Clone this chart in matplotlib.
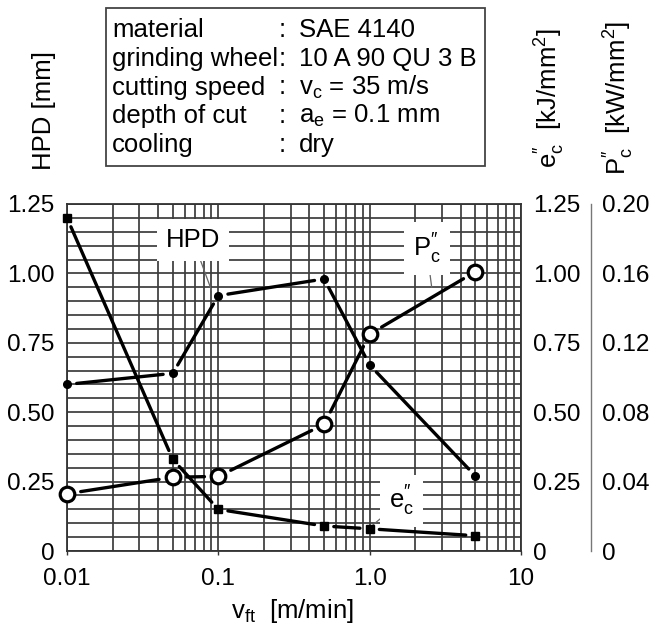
import numpy as np
import matplotlib
matplotlib.use('Agg')
import matplotlib.pyplot as plt
from matplotlib.patches import Rectangle
from matplotlib.ticker import FixedLocator, LogLocator, NullFormatter

plt.rcParams['font.family'] = ['Liberation Sans', 'DejaVu Sans']
plt.rcParams['mathtext.fontset'] = 'custom'
plt.rcParams['mathtext.rm'] = 'Liberation Sans'
plt.rcParams['mathtext.it'] = 'Liberation Sans'
plt.rcParams['mathtext.bf'] = 'Liberation Sans:bold'

# ── data ──────────────────────────────────────────────────────────────────────
v_ft = [0.01, 0.05, 0.1, 0.5, 1.0, 5.0]            # feed speed [m/min]
hpd = [0.60, 0.64, 0.92, 0.98, 0.67, 0.27]         # HPD [mm]
e_c = [1.20, 0.33, 0.15, 0.09, 0.08, 0.055]        # e_c'' [kJ/mm^2]
p_c = [0.033, 0.0425, 0.043, 0.073, 0.125, 0.161]  # P_c'' [kW/mm^2]

left_ticks = [0, 0.25, 0.50, 0.75, 1.00, 1.25]
left_labels = ['0', '0.25', '0.50', '0.75', '1.00', '1.25']
p_ticks = [0, 0.04, 0.08, 0.12, 0.16, 0.20]
p_labels = ['0', '0.04', '0.08', '0.12', '0.16', '0.20']
x_ticks = [0.01, 0.1, 1.0, 10]
x_labels = ['0.01', '0.1', '1.0', '10']

info_keys = ['material', 'grinding wheel', 'cutting speed', 'depth of cut', 'cooling']
info_vals = ['SAE 4140', '10 A 90 QU 3 B', r'$\mathregular{v_c}$ = 35 m/s',
             r'$\mathregular{a_e}$ = 0.1 mm', 'dry']

FS = 17.5      # tick labels
FS_TXT = 18.5  # box and axis titles
W, H = 655, 630

def fx(px):
    return px / W

def fy(py):
    return 1 - py / H

fig = plt.figure(figsize=(6.55, 6.3), dpi=100)
ax = fig.add_axes([fx(67), fy(551), fx(521) - fx(67), fy(204) - fy(551)])

# ── grid: log in x, 0.05 steps in y ──────────────────────────────────────────
ax.set_xscale('log')
ax.set_xlim(0.01, 10)
ax.set_ylim(0, 1.25)
ax.xaxis.set_major_locator(FixedLocator(x_ticks))
ax.set_xticklabels(x_labels)
ax.xaxis.set_minor_locator(LogLocator(base=10, subs=np.arange(2, 10)))
ax.xaxis.set_minor_formatter(NullFormatter())
ax.set_yticks(left_ticks)
ax.set_yticklabels(left_labels)
ax.yaxis.set_minor_locator(FixedLocator(np.arange(0, 1.2501, 0.05)))
ax.grid(which='both', color='#3c3c3c', lw=1.25)
ax.set_axisbelow(True)
ax.tick_params(axis='x', which='major', length=3, width=1, pad=9,
               labelsize=FS, direction='out', color='#333333')
ax.tick_params(axis='x', which='minor', length=0)
ax.tick_params(axis='y', which='both', length=0, pad=9, labelsize=FS)
for s in ax.spines.values():
    s.set_color('#333333')
    s.set_linewidth(1.3)

# right axis for e_c''
ax_e = ax.twinx()
ax_e.set_ylim(0, 1.25)
ax_e.set_yticks(left_ticks)
ax_e.set_yticklabels(left_labels)
ax_e.tick_params(axis='y', length=0, pad=9, labelsize=FS)
for s in ax_e.spines.values():
    s.set_visible(False)

# outer axis for P_c''
ax_p = ax.twinx()
ax_p.set_ylim(0, 0.20)
ax_p.set_yticks(p_ticks)
ax_p.set_yticklabels(p_labels)
ax_p.tick_params(axis='y', length=0, pad=8, labelsize=FS)
for name, s in ax_p.spines.items():
    s.set_visible(name == 'right')
ax_p.spines['right'].set_position(('axes', (591 - 67) / (521 - 67)))
ax_p.spines['right'].set_color('#777777')
ax_p.spines['right'].set_linewidth(1.0)


def joined(axis, xs, ys, gap):
    # connect neighbouring points, leaving a small gap at each marker
    for x0, y0, x1, y1 in zip(xs[:-1], ys[:-1], xs[1:], ys[1:]):
        axis.annotate('', xy=(x1, y1), xytext=(x0, y0),
                      arrowprops=dict(arrowstyle='-', lw=2.4, color='black',
                                      shrinkA=gap, shrinkB=gap))


# HPD: small filled dots
joined(ax, v_ft, hpd, 7)
ax.plot(v_ft, hpd, 'o', ms=5.5, color='black', zorder=5, clip_on=False)

# e_c'': filled squares
joined(ax, v_ft, e_c, 7)
ax.plot(v_ft, e_c, 's', ms=5.5, color='black', zorder=5, clip_on=False)

# P_c'': open circles
joined(ax_p, v_ft, p_c, 10)
ax_p.plot(v_ft, p_c, 'o', ms=10.5, mfc='white', mec='black', mew=2.3,
          zorder=5, clip_on=False)

# curve labels with leader lines
box = dict(boxstyle='square,pad=0.35', fc='white', ec='none')
lead = dict(arrowstyle='-', color='#666666', lw=0.9, shrinkA=0, shrinkB=0)
ax.annotate('HPD', xy=(0.090, 0.94), xytext=(0.068, 1.12), fontsize=FS_TXT,
            ha='center', va='center', bbox=box, arrowprops=lead, zorder=4)
ax.annotate(r'$\mathregular{P_c^{\prime\prime}}$', xy=(2.57, 0.95),
            xytext=(2.38, 1.09), fontsize=FS_TXT, ha='center', va='center',
            bbox=box, arrowprops=lead, zorder=4)
ax.annotate(r'$\mathregular{e_c^{\prime\prime}}$', xy=(1.05, 0.094),
            xytext=(1.63, 0.18), fontsize=FS_TXT, ha='center', va='center',
            bbox=box, arrowprops=lead, zorder=4)

# axis titles
fig.text(fx(44), fy(110), 'HPD [mm]', rotation=90, ha='center', va='center',
         fontsize=FS_TXT)
fig.text(fx(550), fy(98), r'$\mathregular{e_c^{\prime\prime}\ \ [kJ/mm^2]}$',
         rotation=90, ha='center', va='center', fontsize=FS_TXT)
fig.text(fx(619), fy(98), r'$\mathregular{P_c^{\prime\prime}\ \ [kW/mm^2]}$',
         rotation=90, ha='center', va='center', fontsize=FS_TXT)
fig.text(fx(292), fy(618), r'$\mathregular{v_{ft}}$  [m/min]', ha='center',
         va='baseline', fontsize=FS_TXT)

# test conditions box
fig.patches.append(Rectangle((fx(106), fy(166)), fx(485) - fx(106),
                             fy(8) - fy(166), transform=fig.transFigure,
                             fill=False, ec='#444444', lw=1.3))
for i, (k, v) in enumerate(zip(info_keys, info_vals)):
    yb = fy(37 + i * 28.75)
    fig.text(fx(112), yb, k, fontsize=FS_TXT, va='baseline')
    fig.text(fx(282), yb, ':', fontsize=FS_TXT, va='baseline', ha='center')
    fig.text(fx(299), yb, v, fontsize=FS_TXT, va='baseline')

fig.savefig('out.png', dpi=100, facecolor='white')
